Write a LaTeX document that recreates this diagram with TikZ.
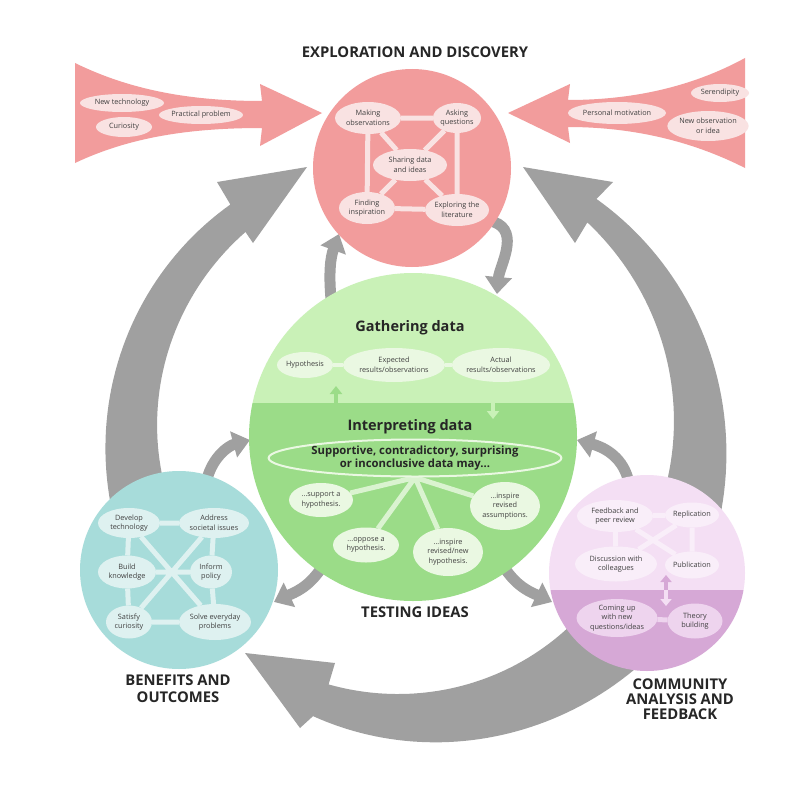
\documentclass[tikz,border=0pt]{standalone}
\usepackage{fontspec}
\setmainfont{Open Sans}
\usetikzlibrary{shapes.geometric,arrows.meta}
\pgfdeclarelayer{back}
\pgfdeclarelayer{mid}
\pgfsetlayers{back,mid,main}
\definecolor{redc}{HTML}{F29C9C}
\definecolor{redl}{HTML}{F9E2E2}
\definecolor{grl}{HTML}{C9F1B7}
\definecolor{grd}{HTML}{9BDC88}
\definecolor{grel}{HTML}{EAF8E2}
\definecolor{tealc}{HTML}{A7DCDA}
\definecolor{teall}{HTML}{DEF1F0}
\definecolor{purl}{HTML}{F4DFF4}
\definecolor{purd}{HTML}{D6A8D6}
\definecolor{purel}{HTML}{F9EEF9}
\definecolor{gr}{HTML}{A0A0A0}
\tikzset{
  sz/.style 2 args={minimum width=#1pt, minimum height=#2pt},
  bub/.style={ellipse, inner sep=0pt, outer sep=0pt, align=center, font=\fontsize{7.3}{9.5}\selectfont, text=black!75},
  rb/.style={bub, fill=redl},
  gb/.style={bub, fill=grel},
  tb/.style={bub, fill=teall},
  pb/.style={bub, fill=purel},
  title/.style={font=\bfseries\fontsize{14.8}{17}\selectfont, text=black!85, align=center},
  sub/.style={font=\bfseries\fontsize{14.5}{16}\selectfont, text=black!85},
  lnk/.style={line width=5pt},
  garr/.style={draw=gr, line width=11pt, -{Triangle[width=26pt,length=17pt]}},
}
\begin{document}
\begin{tikzpicture}[x=1pt,y=-1pt]
\useasboundingbox (0,0) rectangle (800,800);

% ---------- nodes ----------
% titles
\node[title] (t1) at (415,52) {EXPLORATION AND DISCOVERY};
\node[title] (t2) at (415,612) {TESTING IDEAS};
\node[title] (t3) at (178,689) {BENEFITS AND\\OUTCOMES};
\node[title, font=\bfseries\fontsize{14.8}{15}\selectfont] (t4) at (680,699) {COMMUNITY\\ANALYSIS AND\\FEEDBACK};

% funnel bubbles
\node[rb, sz={84}{18}] (nt) at (122,103) {New technology};
\node[rb, sz={56}{20}] (cur) at (124,127) {Curiosity};
\node[rb, sz={80}{18}] (pp) at (201,115) {Practical problem};
\node[rb, sz={98}{22}] (pm) at (617,113) {Personal motivation};
\node[rb, sz={58}{18}] (ser) at (720,93) {Serendipity};
\node[rb, sz={74}{30}] (no) at (708,126) {New observation\\or idea};

% red circle bubbles
\node[rb, sz={66}{32}] (mo) at (368,118) {Making\\observations};
\node[rb, sz={48}{30}] (aq) at (457,118) {Asking\\questions};
\node[rb, sz={74}{32}] (sd) at (410,165) {Sharing data\\and ideas};
\node[rb, sz={56}{32}] (fi) at (367,208) {Finding\\inspiration};
\node[rb, sz={64}{32}] (el) at (457,210) {Exploring the\\literature};

% green circle
\node[sub] (gd) at (410,328) {Gathering data};
\node[gb, sz={56}{26}] (hy) at (305,365) {Hypothesis};
\node[gb, sz={102}{34}] (er) at (394,365) {Expected\\results/observations};
\node[gb, sz={98}{34}] (ar) at (501,365) {Actual\\results/observations};
\node[sub] (id) at (410,427) {Interpreting data};
\node[ellipse, draw=grel, line width=2pt, fill=grd, sz={254}{37}, inner sep=0pt, align=center,
      font=\bfseries\fontsize{11.3}{12.3}\selectfont, text=black!85] (sup) at (415,458)
      {Supportive, contradictory, surprising\\or inconclusive data may...};
\node[gb, sz={64}{34}] (sh) at (321,500) {...support a\\hypothesis.};
\node[gb, sz={66}{35}] (oh) at (366,545) {...oppose a\\hypothesis.};
\node[gb, sz={70}{48}] (ih) at (448,552) {...inspire\\revised/new\\hypothesis.};
\node[gb, sz={70}{48}] (ia) at (505,506) {...inspire\\revised\\assumptions.};

% teal circle
\node[tb, sz={62}{30}] (dt) at (129,523) {Develop\\technology};
\node[tb, sz={70}{30}] (as) at (214,523) {Address\\societal issues};
\node[tb, sz={58}{33}] (bk) at (127,572) {Build\\knowledge};
\node[tb, sz={42}{33}] (ip) at (211,572) {Inform\\policy};
\node[tb, sz={46}{33}] (sc) at (129,622) {Satisfy\\curiosity};
\node[tb, sz={72}{36}] (sp) at (215,622) {Solve everyday\\problems};

% purple circle
\node[pb, sz={76}{32}] (fb) at (615,516) {Feedback and\\peer review};
\node[pb, sz={54}{25}] (re) at (692,515) {Replication};
\node[pb, sz={82}{35}] (dc) at (616,564) {Discussion with\\colleagues};
\node[pb, sz={54}{27}] (pu) at (692,565) {Publication};
\node[pb, fill=purl!80!purd, sz={81}{38}] (cq) at (617,618) {Coming up\\with new\\questions/ideas};
\node[pb, fill=purl!80!purd, sz={55}{35}] (tbd) at (695,621) {Theory\\building};

% coordinates for small arrows
\coordinate (a0) at (331,299); \coordinate (a1) at (339,234);
\coordinate (b0) at (494,222); \coordinate (b1) at (497,294);
\coordinate (c0) at (207,479); \coordinate (c1) at (250,440);
\coordinate (d0) at (628,479); \coordinate (d1) at (577,440);
\coordinate (e0) at (320,570); \coordinate (e1) at (274,602);
\coordinate (f0) at (506,570); \coordinate (f1) at (552,602);
\coordinate (u0) at (336,404); \coordinate (u1) at (336,386);
\coordinate (w0) at (493,401); \coordinate (w1) at (493,419);
\coordinate (v0) at (666,590); \coordinate (v1) at (666,575); \coordinate (v2) at (666,606);

% ---------- background layer ----------
\begin{pgfonlayer}{back}
\fill[white] (0,0) rectangle (800,800);
% big grey arcs
\fill[gr] plot[domain=0:1,samples=50,variable=\s] ({408+(306-11*\s)*cos(155+78*\s)},{440+(306-11*\s)*sin(155+78*\s)})
  -- (217,182) -- (307,167) -- (253,243)
  -- plot[domain=0:1,samples=50,variable=\s] ({408+(264-20*\s)*cos(232-77*\s)},{440+(264-20*\s)*sin(232-77*\s)}) -- cycle;
\fill[gr] plot[domain=0:1,samples=50,variable=\s] ({408+(324-18*\s)*cos(25-77*\s)},{440+(324-18*\s)*sin(25-77*\s)})
  -- (613,182) -- (523,167) -- (575,243)
  -- plot[domain=0:1,samples=50,variable=\s] ({408+(282-25*\s)*cos(-50.5+75.5*\s)},{440+(282-25*\s)*sin(-50.5+75.5*\s)}) -- cycle;
\fill[gr] plot[domain=0:1,samples=50,variable=\s] ({408+(325-33*\s)*cos(40+69*\s)},{440+(325-33*\s)*sin(40+69*\s)})
  -- (300,728) -- (245,653) -- (335,663)
  -- plot[domain=0:1,samples=50,variable=\s] ({408+(257-12*\s)*cos(108-68*\s)},{440+(257-12*\s)*sin(108-68*\s)}) -- cycle;
% funnels
\fill[redc] (75,63) .. controls (130,90) and (190,101) .. (262,101) -- (260,84) -- (322,113) -- (260,146) -- (262,128)
  .. controls (190,128) and (130,137) .. (75,163) -- cycle;
\fill[redc] (745,58) .. controls (690,88) and (630,100) .. (568,100) -- (570,84) -- (508,113) -- (570,143) -- (568,127)
  .. controls (630,127) and (690,140) .. (745,168) -- cycle;
% small grey arrows (angles are page angles, y up)
\draw[garr] (a0) to[out=95,in=-110] (a1);
\draw[garr] (b0) to[out=-20,in=85] (b1);
\draw[garr] (c0) to[out=75,in=-165] (c1);
\draw[garr] (d0) to[out=105,in=-15] (d1);
\draw[garr] (e0) to[out=-125,in=25] (e1);
\draw[garr] (f0) to[out=-55,in=155] (f1);
% circles
\fill[redc] (412,168) circle[radius=99pt];
\begin{scope}
  \clip (413,437) circle[radius=164pt];
  \fill[grl] (240,260) rectangle (590,403);
  \fill[grd] (240,403) rectangle (590,610);
\end{scope}
\fill[tealc] (179,570) circle[radius=99pt];
\begin{scope}
  \clip (647,573) circle[radius=98pt];
  \fill[purl] (540,470) rectangle (750,590);
  \fill[purd] (540,590) rectangle (750,680);
\end{scope}
\end{pgfonlayer}

% ---------- connectors ----------
\begin{pgfonlayer}{mid}
\draw[redl, lnk] (mo) -- (aq) (mo) -- (fi) (aq) -- (el) (fi) -- (el)
  (mo) -- (sd) (aq) -- (sd) (fi) -- (sd) (el) -- (sd);
\draw[grel, line width=4pt] (hy) -- (er) (er) -- (ar);
\draw[grel!80!grd, lnk] (sup.south) -- (sh) (sup.south) -- (oh) (sup.south) -- (ih) (sup.south) -- (ia);
\draw[teall, lnk] (dt) -- (as) (dt) -- (bk) (bk) -- (sc) (as) -- (ip) (ip) -- (sp) (sc) -- (sp)
  (dt) -- (sp) (as) -- (sc) (bk) -- (ip);
\draw[purel, lnk] (fb) -- (re) (fb) -- (dc) (re) -- (pu) (fb) -- (pu) (re) -- (dc);
\draw[purl!80!purd, lnk] (cq) -- (tbd);
\draw[grd, line width=4pt, -{Triangle[width=12pt,length=8pt]}] (u0) -- (u1);
\draw[grl, line width=4pt, -{Triangle[width=12pt,length=8pt]}] (w0) -- (w1);
\draw[purd, line width=3.5pt, -{Triangle[width=11pt,length=7pt]}] (v0) -- (v1);
\draw[purl, line width=3.5pt, -{Triangle[width=11pt,length=7pt]}] (v0) -- (v2);
\end{pgfonlayer}
\end{tikzpicture}
\end{document}
